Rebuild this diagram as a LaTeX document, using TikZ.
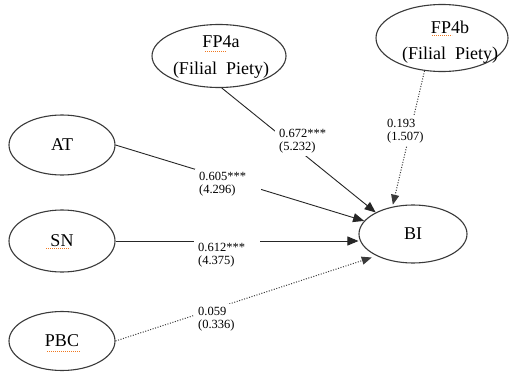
\documentclass[tikz,border=0pt]{standalone}
\usepackage{fontspec}
\setmainfont{Liberation Serif}
\usetikzlibrary{shapes.geometric,arrows.meta}
\definecolor{edgegray}{HTML}{3A3A3A}
\definecolor{linegray}{HTML}{262626}
\definecolor{spell}{HTML}{F07820}
\tikzset{
  latent/.style={ellipse, draw=edgegray, line width=1.1pt, inner sep=0pt,
    font=\fontsize{18}{26.5}\selectfont},
  fptext/.style={align=center, inner sep=0pt, font=\fontsize{18}{26.5}\selectfont},
  solidpath/.style={draw=linegray, line width=0.9pt, -{Triangle[length=11pt,width=9pt]}},
  dotpath/.style={draw=edgegray, line width=1pt, dash pattern=on 1pt off 1.6pt,
    -{Triangle[length=10pt,width=8pt]}},
  lbl/.style={font=\fontsize{12.5}{13}\selectfont, fill=white, align=left,
    text width=58pt, inner xsep=4pt, inner ysep=3.5pt, anchor=west},
  spellmark/.style={draw=spell, line width=0.9pt, dash pattern=on 1.2pt off 0.8pt}
}
\begin{document}
\begin{tikzpicture}[x=1pt,y=-1pt]
\useasboundingbox (0,0) rectangle (509,372);
\fill[white] (0,0) rectangle (509,372);

% ellipses
\node[latent, minimum width=134pt, minimum height=63pt] (FP4a) at (219,56) {};
\node[fptext] (FP4atext) at (221,57) {FP4a\\(Filial\ \ Piety)};
\node[latent, minimum width=132pt, minimum height=67pt] (FP4b) at (442,38) {};
\node[fptext] (FP4btext) at (450,42) {FP4b\\(Filial\ \ Piety)};
\node[latent, minimum width=106pt, minimum height=60pt] (AT) at (62,145) {AT};
\node[latent, minimum width=106pt, minimum height=62pt] (SN) at (62,241) {SN};
\node[latent, minimum width=106pt, minimum height=59pt] (PBC) at (62,341) {PBC};
\node[latent, minimum width=108pt, minimum height=58pt] (BI) at (413,234) {BI};

% spell-check underlines
\draw[spellmark] (205,51.5) -- (226,51.5);
\draw[spellmark] (432,35.5) -- (452,35.5);
\draw[spellmark] (46,248.5) -- (70,248.5);
\draw[spellmark] (47,351.5) -- (80,351.5);

% connectors
\draw[solidpath] (FP4a.275) -- (BI.150);
\draw[dotpath, shorten >=2pt] (FP4b.242) -- (BI.127);
\draw[solidpath] (AT.east) -- (BI.165);
\draw[solidpath] (SN.east) -- (SN.east -| BI.west);
\draw[dotpath, shorten >=5pt] (PBC.east) -- (BI.211);

% labels
\node[lbl] (l1) at (275,141) {0.672***\\(5.232)};
\node[lbl] (l2) at (383,131) {0.193\\(1.507)};
\node[lbl] (l3) at (195,184) {0.605***\\(4.296)};
\node[lbl] (l4) at (194,255) {0.612***\\(4.375)};
\node[lbl] (l5) at (194,319) {0.059\\(0.336)};
\end{tikzpicture}
\end{document}
